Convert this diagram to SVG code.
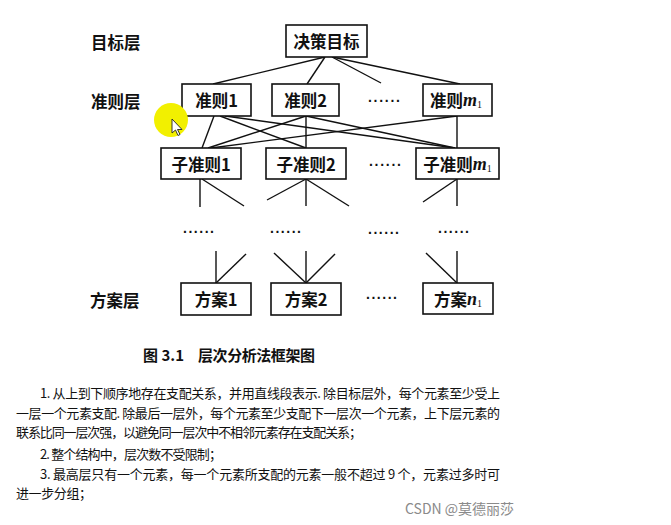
<svg xmlns="http://www.w3.org/2000/svg" width="671" height="525" viewBox="0 0 671 525">
<style>
.box{fill:#fff;stroke:#111;stroke-width:1.6}
.bt{font-family:"Noto Sans CJK SC","Noto Sans",sans-serif;font-weight:700;font-size:16.5px;fill:#111;text-anchor:middle;dominant-baseline:central}
.lab{font-family:"Noto Sans CJK SC","Noto Sans",sans-serif;font-weight:700;font-size:16.5px;fill:#111;dominant-baseline:central}
.it{font-family:"Liberation Serif",serif;font-style:italic;font-weight:700;font-size:18px}
.sub{font-family:"Liberation Serif",serif;font-size:10px;font-weight:400}
.dots{font-family:"Liberation Sans",sans-serif;font-size:14px;font-weight:700;fill:#111}
#connectors line{stroke:#111;stroke-width:1.4}
.p{font-family:"Noto Sans CJK SC","Noto Sans",sans-serif;font-size:13px;fill:#111;dominant-baseline:central}
.cap{font-family:"Noto Sans CJK SC","Noto Sans",sans-serif;font-size:15px;font-weight:700;fill:#111;dominant-baseline:central}
</style>
<rect width="671" height="525" fill="#fff"/>

<g id="layer-labels">
<text class="lab" x="91" y="42">目标层</text>
<text class="lab" x="91" y="101">准则层</text>
<text class="lab" x="90" y="300">方案层</text>
</g>

<g id="connectors">
<line x1="325" y1="57" x2="213" y2="84"/>
<line x1="325" y1="57" x2="307" y2="84"/>
<line x1="332" y1="57" x2="381" y2="83"/>
<line x1="332" y1="57" x2="460" y2="84"/>

<line x1="214" y1="116" x2="202" y2="148"/>
<line x1="220" y1="116" x2="306" y2="148"/>
<line x1="225" y1="116" x2="455" y2="148"/>
<line x1="306" y1="116" x2="208" y2="148"/>
<line x1="306" y1="116" x2="306" y2="148"/>
<line x1="306" y1="116" x2="455" y2="148"/>
<line x1="457" y1="116" x2="211" y2="148"/>
<line x1="457" y1="116" x2="457" y2="148"/>

<line x1="200" y1="179" x2="200" y2="207"/>
<line x1="202" y1="179" x2="244" y2="206"/>
<line x1="306" y1="179" x2="267" y2="200"/>
<line x1="306" y1="179" x2="306" y2="206"/>
<line x1="306" y1="179" x2="349" y2="206"/>
<line x1="457" y1="179" x2="423" y2="202"/>
<line x1="457" y1="179" x2="457" y2="206"/>

<line x1="216" y1="251" x2="216" y2="283"/>
<line x1="246" y1="254" x2="216" y2="283"/>
<line x1="274" y1="253" x2="306" y2="283"/>
<line x1="306" y1="251" x2="306" y2="283"/>
<line x1="335" y1="254" x2="306" y2="283"/>
<line x1="426" y1="253" x2="457" y2="283"/>
<line x1="457" y1="251" x2="457" y2="283"/>
</g>

<g id="goal">
<rect class="box" x="286" y="25" width="81" height="32"/>
<text class="bt" x="326.5" y="41">决策目标</text>
</g>
<g id="c1">
<rect class="box" x="182" y="84" width="69" height="32"/>
<text class="bt" x="216.5" y="100">准则1</text>
</g>
<g id="c2">
<rect class="box" x="272" y="84" width="67" height="32"/>
<text class="bt" x="305.5" y="100">准则2</text>
</g>
<g id="cm">
<rect class="box" x="423" y="84" width="69" height="32"/>
<text class="bt" x="456" y="100">准则<tspan class="it">m</tspan><tspan class="sub" dy="4">1</tspan></text>
</g>
<text class="dots" x="368" y="102" textLength="32" lengthAdjust="spacing">......</text>

<g id="s1">
<rect class="box" x="161" y="148" width="80" height="31"/>
<text class="bt" x="201" y="163.5">子准则1</text>
</g>
<g id="s2">
<rect class="box" x="266" y="148" width="80" height="31"/>
<text class="bt" x="306" y="163.5">子准则2</text>
</g>
<g id="sm">
<rect class="box" x="416" y="148" width="83" height="31"/>
<text class="bt" x="457.5" y="163.5">子准则<tspan class="it">m</tspan><tspan class="sub" dy="4">1</tspan></text>
</g>
<text class="dots" x="369" y="166" textLength="32" lengthAdjust="spacing">......</text>

<g id="mid-dots">
<text class="dots" x="183" y="233" textLength="31" lengthAdjust="spacing">......</text>
<text class="dots" x="270" y="233" textLength="31" lengthAdjust="spacing">......</text>
<text class="dots" x="368" y="234" textLength="31" lengthAdjust="spacing">......</text>
<text class="dots" x="438" y="233" textLength="31" lengthAdjust="spacing">......</text>
</g>

<g id="a1">
<rect class="box" x="181" y="283" width="70" height="32"/>
<text class="bt" x="216" y="299">方案1</text>
</g>
<g id="a2">
<rect class="box" x="271" y="283" width="70" height="32"/>
<text class="bt" x="306" y="299">方案2</text>
</g>
<g id="an">
<rect class="box" x="423" y="283" width="70" height="31"/>
<text class="bt" x="458" y="298.5">方案<tspan class="it">n</tspan><tspan class="sub" dy="4">1</tspan></text>
</g>
<text class="dots" x="366" y="299" textLength="31" lengthAdjust="spacing">......</text>

<g id="caption">
<text class="cap" x="143" y="354" font-size="16">图 3.1</text>
<text class="cap" x="198" y="354" textLength="117" lengthAdjust="spacing">层次分析法框架图</text>
</g>

<g id="paragraph">
<text class="p" x="40" y="392" textLength="460" lengthAdjust="spacing">1. 从上到下顺序地存在支配关系，并用直线段表示. 除目标层外，每个元素至少受上</text>
<text class="p" x="16" y="412" textLength="484" lengthAdjust="spacing">一层一个元素支配. 除最后一层外，每个元素至少支配下一层次一个元素，上下层元素的</text>
<text class="p" x="16" y="431" textLength="346" lengthAdjust="spacing">联系比同一层次强，以避免同一层次中不相邻元素存在支配关系；</text>
<text class="p" x="40" y="453" textLength="182" lengthAdjust="spacing">2. 整个结构中，层次数不受限制；</text>
<text class="p" x="40" y="473" textLength="460" lengthAdjust="spacing">3. 最高层只有一个元素，每一个元素所支配的元素一般不超过 9 个，元素过多时可</text>
<text class="p" x="16" y="492" textLength="76" lengthAdjust="spacing">进一步分组；</text>
</g>

<text x="405" y="508" font-family="Noto Sans CJK SC, sans-serif" font-size="14" fill="#8a8a8a" dominant-baseline="central">CSDN @莫德丽莎</text>

<g id="cursor">
<circle cx="171" cy="120" r="17" fill="#f2f000"/>
<polygon points="172,119 172,133 175.5,130 178,135.5 180,134.5 177.5,129.5 182,129.5" fill="#fff" stroke="#222" stroke-width="0.9"/>
</g>
</svg>
